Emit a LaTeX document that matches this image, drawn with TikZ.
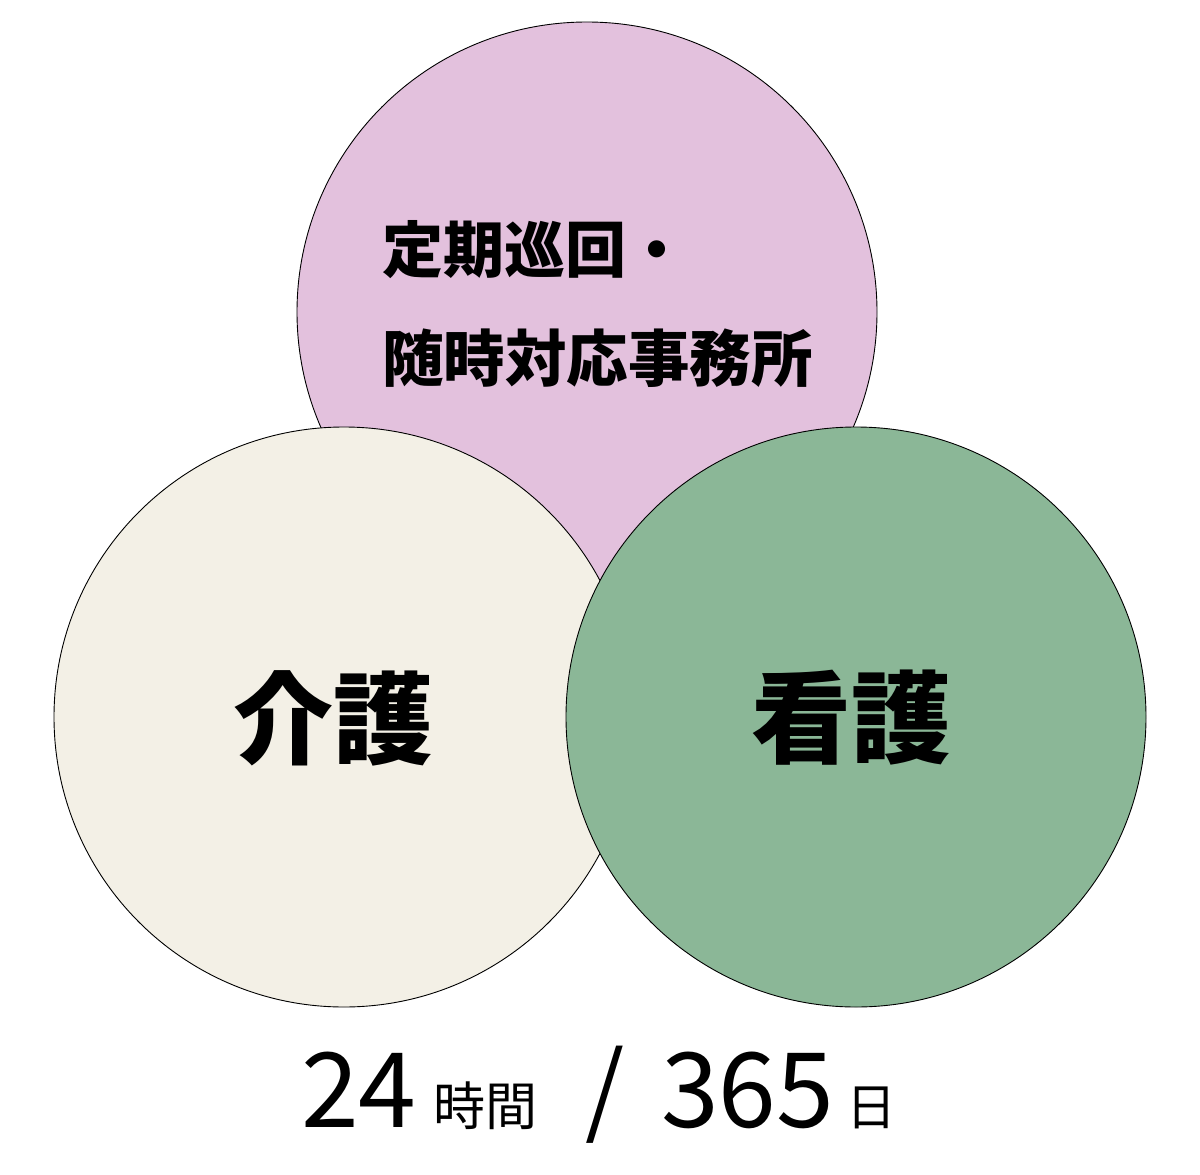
\documentclass[tikz,border=0pt]{standalone}
\usepackage{fontspec}
\setmainfont{Noto Sans CJK JP}
\definecolor{cpurple}{HTML}{E3C1DD}
\definecolor{ccream}{HTML}{F3F0E6}
\definecolor{cgreen}{HTML}{8BB797}
\begin{document}
\begin{tikzpicture}[x=1pt,y=-1pt,
  circ/.style={draw=black,line width=0.9pt},
  txt/.style={inner sep=0pt,outer sep=0pt}]
\useasboundingbox (0,0) rectangle (1200,1175);
\fill[white] (0,0) rectangle (1200,1175);
\draw[circ,fill=cpurple] (587,312) circle[radius=290];
\draw[circ,fill=ccream] (344,717) circle[radius=290];
\draw[circ,fill=cgreen] (856,717) circle[radius=290];
\node[txt,anchor=west,font=\fontsize{61}{61}\selectfont\bfseries] (l1) at (382,250) {定期巡回・};
\node[txt,anchor=west,font=\fontsize{61.5}{61.5}\selectfont\bfseries] (l2) at (382,358) {随時対応事務所};
\node[txt,font=\fontsize{100}{100}\selectfont\bfseries] (kaigo) at (333,718) {介護};
\node[txt,font=\fontsize{100}{100}\selectfont\bfseries] (kango) at (851,718) {看護};
\node[txt,anchor=base west,font=\fontsize{104}{104}\selectfont] (n24) at (301,1127) {24};
\node[txt,anchor=base west,font=\fontsize{52}{52}\selectfont] (jikan) at (433,1125) {時間};
\node[txt,anchor=base,font=\fontsize{100}{100}\selectfont] (sl) at (605,1125) {/};
\node[txt,anchor=base west,font=\fontsize{104}{104}\selectfont] (n365) at (661,1127) {365};
\node[txt,anchor=base west,font=\fontsize{50}{50}\selectfont] (nichi) at (846,1125) {日};
\end{tikzpicture}
\end{document}
